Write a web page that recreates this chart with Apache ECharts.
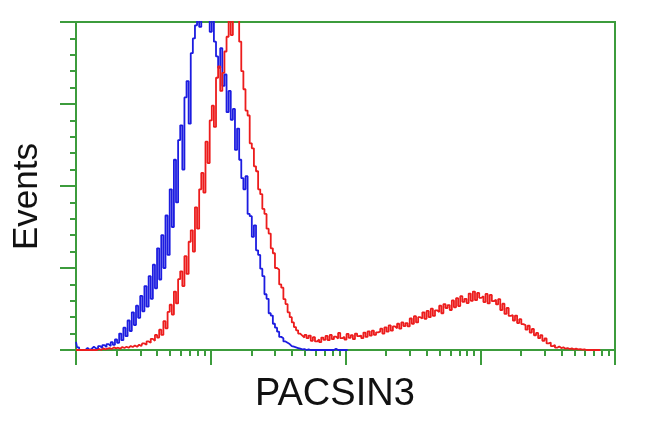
<!DOCTYPE html>
<html><head><meta charset="utf-8">
<script src="https://cdn.jsdelivr.net/npm/echarts@6/dist/echarts.min.js"></script>
<style>html,body{margin:0;padding:0;background:#fff}#c{width:650px;height:432px}</style>
</head><body><div id="c"></div>
<script>
const xAxisTitle = 'PACSIN3';
const yAxisTitle = 'Events';
const channelWidth = 4;           // 256 channels over a 1024 scale (4 decades)
const decadeTicks = [0, 256, 512, 768, 1024];
const minorMultipliers = [2, 3, 4, 5, 6, 7, 8, 9];
const countTicks = [0, 25, 50, 75, 100];

// Blue (control) histogram, counts per channel starting at channel 0
const blueCounts = [
  2.5,0.8,0,0,0,0.6,0,0.4,1.0,0.5,
  0.3,1.2,0.6,1.5,0.9,1.8,1.2,2.4,1.6,3.2,
  2.2,5.0,3.0,6.8,4.2,9.0,5.8,11.5,7.6,13.5,
  9.8,16.5,11.8,19.5,13.2,22.5,15.6,26.0,18.8,31.0,
  21.5,35.0,25.0,41.0,29.0,49.0,37.5,58.0,45.0,64.0,
  68.5,55.0,77.0,82.0,69.0,90.5,95.0,99.0,104,98.5,
  106,101,108,103,97.0,104,94.0,89.5,86.0,92.0,
  80.5,84.0,72.5,79.0,70.2,73.5,61.0,67.5,58.0,52.4,
  49.0,53.0,41.5,40.8,34.5,38.0,30.4,29.0,24.8,22.5,
  17.0,15.6,11.2,10.5,8.0,6.8,5.6,4.0,3.6,2.6,
  2.2,1.8,1.2,1.0,0.8,0.6,0.4,0.2,0.3,0,
  0.2,0,0,0,0,0,0,0,0,0,
  0,0,0,0.4,0,0,0,0,0,0
];

// Red (PACSIN3) histogram, counts per channel starting at channel 0
const redCounts = [
  0,0,0,0,0,0,0,0,0,0,
  0,0.3,0,0.5,0.2,0.4,0.6,0.3,0.8,0.5,
  0.7,0.4,0.9,0.6,1.0,0.7,1.2,0.9,1.4,1.0,
  1.6,1.2,2.0,1.6,2.6,2.2,3.4,2.8,4.6,3.8,
  6.2,4.6,8.8,6.6,11.6,13.8,10.8,17.8,14.2,21.6,
  24.0,19.5,28.6,23.2,33.0,36.5,30.0,43.5,37.0,49.0,
  54.0,48.0,63.5,57.0,70.0,74.5,68.0,83.0,86.5,79.0,
  84.5,91.0,95.5,102,96.0,106,101,104,94.0,85.0,
  79.5,73.0,71.5,63.0,61.5,56.0,54.5,49.0,47.5,43.0,
  41.5,37.0,35.5,31.0,29.5,25.0,24.5,20.0,19.0,15.5,
  14.0,11.5,10.0,8.4,7.0,6.0,5.0,4.4,3.8,4.6,
  3.6,4.4,2.8,3.9,2.6,3.2,2.4,3.8,3.1,4.3,
  3.0,4.6,3.3,4.1,3.5,5.2,3.6,4.0,3.2,4.9,
  3.7,4.5,3.3,5.0,4.2,4.4,3.6,5.3,4.0,5.7,
  4.4,5.9,4.6,5.4,5.6,6.5,5.0,6.9,5.6,7.5,
  5.9,7.2,6.6,8.0,6.5,8.4,7.3,8.2,7.2,9.6,
  8.0,10.3,8.4,10.0,9.6,11.5,9.5,11.9,10.0,12.6,
  10.4,12.1,11.6,13.5,11.2,14.0,12.8,13.7,12.2,15.1,
  13.0,15.8,13.4,16.4,14.7,15.6,14.3,17.2,15.0,17.8,
  15.2,17.4,15.9,16.4,14.6,17.1,14.2,16.8,14.9,15.3,
  13.9,15.5,12.2,14.1,11.0,12.8,10.4,10.6,9.0,10.5,
  8.2,9.4,7.9,7.6,6.2,7.4,5.3,6.4,4.5,5.2,
  3.6,4.5,2.8,3.5,2.0,2.3,1.2,1.5,0.7,1.1,
  0.6,0.8,0.4,0.6,0.3,0.5,0.2,0.4,0.2,0.3,
  0.1,0.2,0,0,0,0,0,0,0,0
];

const green = '#3c9c3c';
const toPairs = arr => arr.map((v, i) => [i * channelWidth, v]);
const minorTickValues = [];
for (let d = 0; d < decadeTicks.length - 1; d++) {
  const span = decadeTicks[d + 1] - decadeTicks[d];
  minorMultipliers.forEach(m => minorTickValues.push(decadeTicks[d] + span * Math.log10(m)));
}

const chart = echarts.init(document.getElementById('c'), null, {renderer: 'canvas'});
chart.setOption({
  animation: false,
  backgroundColor: '#ffffff',
  grid: {left: 76, right: 35, top: 22, bottom: 82, show: true, borderColor: green, borderWidth: 2, backgroundColor: 'transparent'},
  xAxis: [
    {type: 'value', min: decadeTicks[0], max: decadeTicks[decadeTicks.length - 1], interval: 256, position: 'bottom',
     axisLine: {show: true, lineStyle: {color: green, width: 2}},
     axisTick: {show: true, inside: false, length: 15, lineStyle: {color: green, width: 2}},
     axisLabel: {show: false}, splitLine: {show: false}},
    {type: 'value', min: decadeTicks[0], max: decadeTicks[decadeTicks.length - 1], position: 'bottom',
     axisLine: {show: false},
     axisTick: {show: true, inside: false, length: 6, customValues: minorTickValues, lineStyle: {color: green, width: 2}},
     axisLabel: {show: false}, splitLine: {show: false}}
  ],
  yAxis: {type: 'value', min: countTicks[0], max: countTicks[countTicks.length - 1], interval: 25,
    axisLine: {show: true, lineStyle: {color: green, width: 2}},
    axisTick: {show: true, inside: false, length: 16, lineStyle: {color: green, width: 2}},
    minorTick: {show: true, splitNumber: 5, length: 6, lineStyle: {color: green, width: 2}},
    axisLabel: {show: false}, splitLine: {show: false}},
  graphic: [
    {type: 'text', left: 255, top: 376, style: {text: xAxisTitle, font: '38px "Liberation Sans", Arial, sans-serif', fill: '#111'}},
    {type: 'text', x: 10, y: 250, rotation: Math.PI / 2, style: {text: yAxisTitle, font: '35px "Liberation Sans", Arial, sans-serif', fill: '#111'}}
  ],
  series: [
    {type: 'line', name: 'control', data: toPairs(blueCounts), step: 'middle', showSymbol: false, clip: true,
     lineStyle: {color: '#1c1ce0', width: 1.8}, itemStyle: {color: '#1c1ce0'}},
    {type: 'line', name: 'PACSIN3', data: toPairs(redCounts), step: 'middle', showSymbol: false, clip: true,
     lineStyle: {color: '#ec1c1c', width: 1.8}, itemStyle: {color: '#ec1c1c'}}
  ]
});
</script></body></html>
